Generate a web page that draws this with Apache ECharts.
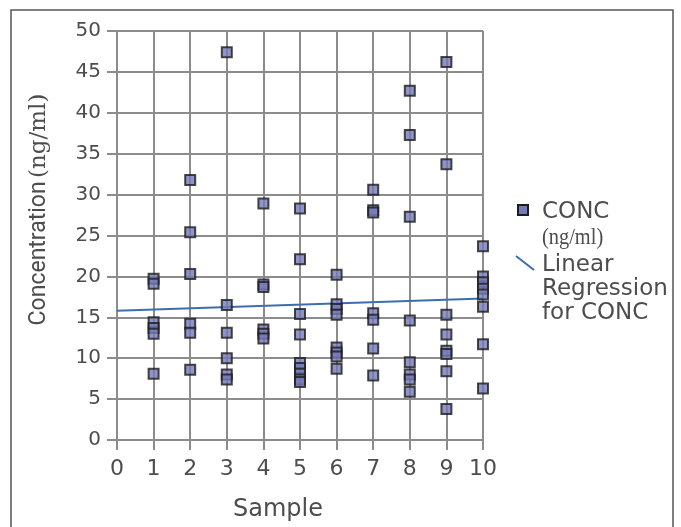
<!DOCTYPE html>
<html>
<head>
<meta charset="utf-8">
<script src="https://cdn.jsdelivr.net/npm/echarts@6/dist/echarts.min.js"></script>
<style>html,body{margin:0;padding:0;background:#fff;}#c{width:681px;height:527px;}</style>
</head>
<body>
<div id="c"></div>
<script>
// Sample numbers (x) and concentrations
const sampleIds = [1, 2, 3, 4, 5, 6, 7, 8, 9, 10];
const sample1 = [19.7, 19.1, 14.4, 13.7, 13.0, 8.1];
const sample2 = [31.8, 25.4, 20.3, 14.2, 13.1, 8.6];
const sample3 = [47.4, 16.5, 13.1, 10.0, 8.0, 7.4];
const sample4 = [28.9, 19.0, 18.7, 13.5, 13.0, 12.4];
const sample5 = [28.3, 22.1, 15.4, 12.9, 9.4, 8.8, 8.1, 7.4, 7.1];
const sample6 = [20.2, 16.6, 16.0, 15.3, 11.3, 10.7, 10.2, 8.7];
const sample7 = [30.6, 28.1, 27.8, 15.5, 14.7, 11.2, 7.9];
const sample8 = [42.7, 37.3, 27.3, 14.6, 9.5, 8.0, 7.4, 5.9];
const sample9 = [46.2, 33.7, 15.3, 12.9, 10.9, 10.5, 8.4, 3.8];
const sample10 = [23.7, 20.0, 19.3, 18.5, 17.8, 16.3, 11.7, 6.3];
const concBySample = [sample1, sample2, sample3, sample4, sample5, sample6, sample7, sample8, sample9, sample10];

// Linear regression line end points
const regX = [0, 10];
const regY = [15.8, 17.3];

const xTicks = [0, 1, 2, 3, 4, 5, 6, 7, 8, 9, 10];
const yTicks = [0, 5, 10, 15, 20, 25, 30, 35, 40, 45, 50];

const scatterData = [];
sampleIds.forEach((s, i) => concBySample[i].forEach(v => scatterData.push([s, v])));
const regData = regX.map((x, i) => [x, regY[i]]);

const gridColor = '#8c8c8c';
const textColor = '#4d4d4d';

const chart = echarts.init(document.getElementById('c'), null, {renderer: 'canvas'});
chart.setOption({
  animation: false,
  backgroundColor: '#ffffff',
  grid: {left: 117, right: 198, top: 31, bottom: 86, containLabel: false},
  xAxis: {
    type: 'value', min: xTicks[0], max: xTicks[xTicks.length - 1], interval: 1,
    name: 'Sample', nameLocation: 'middle', nameGap: 58,
    nameTextStyle: {fontFamily: 'DejaVu Sans', fontSize: 24, color: textColor, padding: [0, 44, 0, 0]},
    axisLine: {show: true, lineStyle: {color: gridColor, width: 2}},
    axisTick: {show: true, length: 10, lineStyle: {color: gridColor, width: 2}},
    axisLabel: {fontFamily: 'DejaVu Sans', fontSize: 22, color: textColor, margin: 18},
    splitLine: {show: true, lineStyle: {color: gridColor, width: 2}}
  },
  yAxis: {
    type: 'value', min: yTicks[0], max: yTicks[yTicks.length - 1], interval: 5,
    name: '{a|Concentration} {b|(ng/ml)}', nameLocation: 'middle', nameGap: 66, nameRotate: 90,
    nameTextStyle: {
      color: textColor, padding: [0, 0, 0, 52],
      rich: {
        a: {fontFamily: 'Roboto', fontSize: 23, color: textColor},
        b: {fontFamily: 'DejaVu Serif', fontSize: 23, color: textColor}
      }
    },
    axisLine: {show: true, lineStyle: {color: gridColor, width: 2}},
    axisTick: {show: true, length: 10, lineStyle: {color: gridColor, width: 2}},
    axisLabel: {fontFamily: 'DejaVu Sans', fontSize: 20, color: textColor, margin: 16},
    splitLine: {show: true, lineStyle: {color: gridColor, width: 2}}
  },
  series: [
    {
      name: 'Linear Regression for CONC', type: 'line', data: regData,
      showSymbol: false, symbol: 'none', z: 3,
      lineStyle: {color: '#3c6eae', width: 2}
    },
    {
      name: 'CONC (ng/ml)', type: 'scatter', data: scatterData,
      symbol: 'rect', symbolSize: [10, 10], z: 4,
      itemStyle: {color: '#7479b8', borderColor: '#1c1c1c', borderWidth: 2}
    }
  ],
  graphic: [
    {type: 'rect', shape: {x: 11, y: 10, width: 662, height: 620}, style: {fill: 'none', stroke: '#555', lineWidth: 1.5}, silent: true},
    {type: 'rect', shape: {x: 518, y: 205, width: 10, height: 10}, style: {fill: '#7479b8', stroke: '#1c1c1c', lineWidth: 2}},
    {type: 'text', x: 542, y: 212, style: {text: 'CONC', fontFamily: 'DejaVu Sans', fontSize: 23, fill: textColor, verticalAlign: 'middle'}},
    {type: 'text', x: 542, y: 238, scaleX: 0.85, style: {text: '(ng/ml)', fontFamily: 'Liberation Serif', fontSize: 24, fill: textColor, verticalAlign: 'middle'}},
    {type: 'line', shape: {x1: 516, y1: 256, x2: 534, y2: 270}, style: {stroke: '#3c6eae', lineWidth: 2}},
    {type: 'text', x: 542, y: 265, style: {text: 'Linear', fontFamily: 'DejaVu Sans', fontSize: 23, fill: textColor, verticalAlign: 'middle'}},
    {type: 'text', x: 542, y: 289, style: {text: 'Regression', fontFamily: 'DejaVu Sans', fontSize: 23, fill: textColor, verticalAlign: 'middle'}},
    {type: 'text', x: 542, y: 313, style: {text: 'for CONC', fontFamily: 'DejaVu Sans', fontSize: 23, fill: textColor, verticalAlign: 'middle'}}
  ]
});
</script>
</body>
</html>
